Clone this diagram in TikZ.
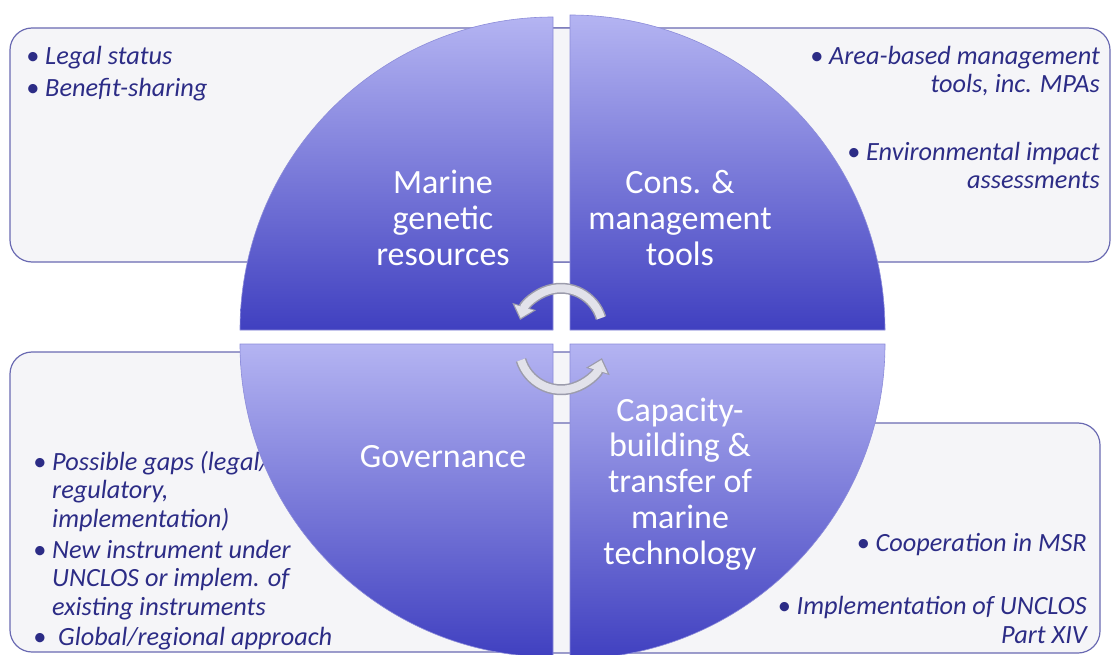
\documentclass[tikz,border=0pt]{standalone}
\usepackage{fontspec}
\setmainfont{Carlito}
\usetikzlibrary{arrows.meta, positioning}

\definecolor{boxfill}{HTML}{F5F5F8}
\definecolor{boxline}{HTML}{6A6AB2}
\definecolor{itemtext}{HTML}{2C2C86}
\definecolor{quadlight}{HTML}{B4B4F2}
\definecolor{quaddark}{HTML}{4040C0}
\definecolor{arrowfill}{HTML}{E2E2EA}
\definecolor{arrowline}{HTML}{9C9CAC}

\newcommand{\hangin}{\phantom{\textbullet\ }}

\begin{document}
\begin{tikzpicture}[x=1pt, y=-1pt,
  infobox/.style={draw=boxline, line width=1.2pt, fill=boxfill, rounded corners=22pt},
  quad/.style={draw=quaddark!60!white, line width=0.6pt, top color=quadlight, bottom color=quaddark},
  itemlist/.style={text=itemtext, font=\fontsize{26.3}{28.5}\selectfont\itshape, inner sep=0pt},
  quadlabel/.style={text=white, font=\fontsize{34}{35.7}\selectfont, align=center, inner sep=0pt},
  cycleline/.style={line width=11pt, arrowline, -{Triangle[width=24pt,length=14pt]}, shorten >=-2pt},
  cyclefill/.style={line width=8pt, arrowfill, -{Triangle[width=19pt,length=11pt]}}]

  \useasboundingbox (0,0) rectangle (1113,655);

% define the boxes behind the circle
  \draw[infobox] (10,28)   rectangle (600,262);
  \draw[infobox] (520,28)  rectangle (1110,262);
  \draw[infobox] (10,352)  rectangle (600,652);
  \draw[infobox] (520,423) rectangle (1100,653);

% define the lists in the boxes (anchored at the last line)
  \node[itemlist, align=left, anchor=base west]  (mgrlist)  at (26,97)
{\textbullet\ Legal status\\[3.5pt]\textbullet\ Benefit-sharing};
  \node[itemlist, align=right, anchor=base east] (abmt)     at (1100,93)
{\textbullet\ Area-based management\\tools, inc. MPAs};
  \node[itemlist, align=right, anchor=base east] (eia)      at (1100,189)
{\textbullet\ Environmental impact\\assessments};
  \node[itemlist, align=left, anchor=base west]  (gaps)     at (33,527)
{\textbullet\ Possible gaps (legal/\\\hangin regulatory,\\\hangin implementation)};
  \node[itemlist, align=left, anchor=base west]  (newinst)  at (33,615)
{\textbullet\ New instrument under\\\hangin UNCLOS or implem. of\\\hangin existing instruments};
  \node[itemlist, align=left, anchor=base west]  (approach) at (33,645)
{\textbullet\ \ Global/regional approach};
  \node[itemlist, align=right, anchor=base east] (msr)      at (1087,551)
{\textbullet\ Cooperation in MSR};
  \node[itemlist, align=right, anchor=base east] (partxiv)  at (1087,643)
{\textbullet\ Implementation of UNCLOS\\Part XIV};

% define the four quarters of the circle
  \path[quad] (553,330) -- (240,330) arc[start angle=180, end angle=270, radius=313] -- cycle;
  \path[quad] (570,330) -- (570,15)  arc[start angle=270, end angle=360, radius=315] -- cycle;
  \path[quad] (553,344) -- (240,344) arc[start angle=180, end angle=90,  radius=313] -- cycle;
  \path[quad] (570,344) -- (885,344) arc[start angle=0,   end angle=90,  radius=315] -- cycle;

% define the labels of the quarters (anchored at the last line)
  \node[quadlabel, anchor=base] (mgr)        at (443,265)
{Marine\\genetic\\resources};
  \node[quadlabel, anchor=base] (tools)      at (680,265)
{Cons. \&\\management\\tools};
  \node[quadlabel, anchor=base] (governance) at (443,467)
{Governance};
  \node[quadlabel, anchor=base] (capacity)   at (680,564)
{Capacity-\\building \&\\transfer of\\marine\\technology};

% define the cycle arrows
  \coordinate (upperstart) at (601,318);
  \coordinate (lowerstart) at (521,360);
  \draw[cycleline] (upperstart) arc[start angle=343, end angle=197, radius=42];
  \draw[cyclefill] (upperstart) arc[start angle=343, end angle=197, radius=42];
  \draw[cycleline] (lowerstart) arc[start angle=163, end angle=17,  radius=42];
  \draw[cyclefill] (lowerstart) arc[start angle=163, end angle=17,  radius=42];

\end{tikzpicture}
\end{document}
